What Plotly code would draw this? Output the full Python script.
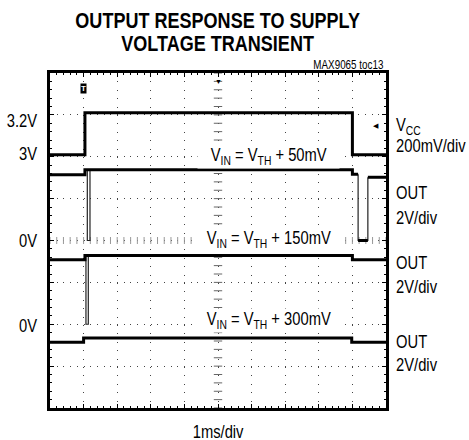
import numpy as np
import plotly.graph_objects as go

# ---------------- data ----------------
title_lines = ["OUTPUT RESPONSE TO SUPPLY", "VOLTAGE TRANSIENT"]
chart_id = "MAX9065 toc13"
x_label = "1ms/div"

left_labels = ["3.2V", "3V", "0V", "0V", "0V"]
left_label_div = [6.85, 6.07, 4.0, 1.96, -0.02]

right_labels = ["V<sub>CC</sub>", "200mV/div", "OUT", "2V/div", "OUT", "2V/div", "OUT", "2V/div"]
right_label_div = [6.72, 6.26, 5.13, 4.53, 3.46, 2.89, 1.58, 1.03]

vin_labels = ["V<sub>IN</sub> = V<sub>TH</sub> + 50mV",
              "V<sub>IN</sub> = V<sub>TH</sub> + 150mV",
              "V<sub>IN</sub> = V<sub>TH</sub> + 300mV"]
vin_label_div = [6.0, 4.02, 2.1]

# time in ms (1 ms/div), voltages in volts
t_vcc = [0, 1.04, 1.04, 9.0, 9.0, 10]
v_vcc = [3.0, 3.0, 3.2, 3.2, 3.0, 3.0]

t_out1 = [0, 1.04, 1.04, 9.0, 9.0, 9.17, None, 9.17, 9.46, None, 9.46, 10]
v_out1 = [3.14, 3.14, 3.38, 3.38, 3.16, 3.16, None, 0.0, 0.0, None, 3.02, 3.02]
t_out1_edges = [1.11, 1.11, 1.19, 1.19, None, 9.17, 9.17, 9.46, 9.46]
v_out1_edges = [3.38, 0.0, 0.0, 3.38, None, 3.16, 0.0, 0.0, 3.02]

t_out2 = [0, 1.04, 1.04, 9.0, 9.0, 10]
v_out2 = [3.08, 3.08, 3.28, 3.28, 3.08, 3.08]
t_out2_edges = [1.07, 1.07, 1.14, 1.14]
v_out2_edges = [3.28, 0.0, 0.0, 3.28]

t_out3 = [0, 1.0, 1.0, 8.98, 8.98, 10]
v_out3 = [3.14, 3.14, 3.34, 3.34, 3.14, 3.14]

# channel settings (scope screen: 8 vertical divisions)
vcc_ref_v, vcc_ref_div, vcc_scale = 3.0, 6.05, 0.2
out_scale = 2.0
out1_zero, out2_zero, out3_zero = 4.0, 2.0, 0.0

# ---------------- figure ----------------
FONT = "Liberation Sans, Arial, sans-serif"
NARROW = 0.82


def vcc_div(v):
    return [None if x is None else vcc_ref_div + (x - vcc_ref_v) / vcc_scale for x in v]


def out_div(v, zero):
    return [None if x is None else zero + x / out_scale for x in v]


fig = go.Figure()

# graticule center-cross tick marks
cross = np.arange(0, 10.001, 0.2)
crossy = np.arange(0, 8.001, 0.2)
fig.add_trace(go.Scatter(x=[5] * len(crossy), y=crossy, mode="markers",
                         marker=dict(symbol="line-ew", size=6, line=dict(width=1, color="#666")),
                         hoverinfo="skip", showlegend=False))
fig.add_trace(go.Scatter(x=cross, y=[4] * len(cross), mode="markers",
                         marker=dict(symbol="line-ns", size=5, line=dict(width=1, color="#999")),
                         hoverinfo="skip", showlegend=False))

thick = dict(color="black", width=3)
thin = dict(color="#222", width=1.2)

fig.add_trace(go.Scatter(x=t_vcc, y=vcc_div(v_vcc), mode="lines", line=thick, showlegend=False))
fig.add_trace(go.Scatter(x=t_out1_edges, y=out_div(v_out1_edges, out1_zero), mode="lines", line=thin, showlegend=False))
fig.add_trace(go.Scatter(x=t_out1, y=out_div(v_out1, out1_zero), mode="lines", line=thick, showlegend=False))
fig.add_trace(go.Scatter(x=t_out2_edges, y=out_div(v_out2_edges, out2_zero), mode="lines", line=thin, showlegend=False))
fig.add_trace(go.Scatter(x=t_out2, y=out_div(v_out2, out2_zero), mode="lines", line=thick, showlegend=False))
fig.add_trace(go.Scatter(x=t_out3, y=out_div(v_out3, out3_zero), mode="lines", line=thick, showlegend=False))

ann = []
origins = []


def add(origin, **kw):
    ann.append(kw)
    origins.append(origin)


# title
add("center", text="<b>%s</b>" % title_lines[0], xref="paper", yref="paper", x=0.5, y=1.1567,
    showarrow=False, font=dict(size=22, family=FONT, color="black"), yanchor="middle")
add("center", text="<b>%s</b>" % title_lines[1], xref="paper", yref="paper", x=0.5, y=1.0866,
    showarrow=False, font=dict(size=22, family=FONT, color="black"), yanchor="middle")
add("right", text=chart_id, xref="paper", yref="paper", x=1, y=1.0239, xanchor="right",
    showarrow=False, font=dict(size=12, family=FONT, color="black"), yanchor="middle")
add("center", text=x_label, xref="paper", yref="paper", x=0.5, y=-0.0716,
    showarrow=False, font=dict(size=18, family=FONT, color="black"), yanchor="middle")
for lab, yv in zip(left_labels, left_label_div):
    add("right", text=lab, xref="paper", yref="y", x=0, y=yv, xanchor="right", xshift=-11,
        showarrow=False, font=dict(size=18, family=FONT, color="black"), yanchor="middle")
for lab, yv in zip(right_labels, right_label_div):
    add("left", text=lab, xref="paper", yref="y", x=1, y=yv, xanchor="left", xshift=8,
        showarrow=False, font=dict(size=18, family=FONT, color="black"), yanchor="middle")
for lab, yv in zip(vin_labels, vin_label_div):
    add("center", text=lab, xref="x", yref="y", x=6.5, y=yv, xanchor="center",
        showarrow=False, bgcolor="white", borderpad=0,
        font=dict(size=18, family=FONT, color="black"), yanchor="middle")
# trigger markers
add("center", text="<b>T</b>", xref="x", yref="paper", x=1.0, y=0.97, showarrow=False,
    bgcolor="black", borderpad=0, font=dict(size=8, family=FONT, color="white"))
add("center", text="▼", xref="x", yref="paper", x=5.0, y=0.995, showarrow=False,
    font=dict(size=7, color="black"))
add("center", text="◀", xref="paper", yref="y", x=0.985, y=6.75, showarrow=False,
    font=dict(size=7, color="black"))

fig.update_layout(
    width=469, height=440,
    margin=dict(l=50, r=83, t=73, b=32),
    paper_bgcolor="white", plot_bgcolor="white",
    annotations=ann,
    hovermode=False,
    xaxis=dict(range=[0, 10], dtick=1, showgrid=True, gridcolor="#444", gridwidth=1,
               griddash="1px,7.4px", showticklabels=False, zeroline=False,
               showline=True, linewidth=2.5, linecolor="black", mirror="ticks",
               ticks="inside", ticklen=4, tickcolor="black",
               minor=dict(ticks="inside", dtick=0.2, ticklen=2, tickcolor="black", showgrid=False)),
    yaxis=dict(range=[0, 8], dtick=1, showgrid=True, gridcolor="#444", gridwidth=1,
               griddash="1px,5.7px", showticklabels=False, zeroline=False,
               showline=True, linewidth=2.5, linecolor="black", mirror="ticks",
               ticks="inside", ticklen=4, tickcolor="black",
               minor=dict(ticks="inside", dtick=0.2, ticklen=2, tickcolor="black", showgrid=False)),
)

# narrow (condensed) look for the text, anchored like each annotation
css = ["body{margin:0;padding:0;overflow:hidden;}"]
for i, o in enumerate(origins[:-3]):
    css.append('g.annotation[data-index="%d"] text.annotation-text{transform-box:fill-box;'
               'transform-origin:%s center;transform:scaleX(%.2f);}' % (i, o, NARROW))
post = ("var s=document.createElement('style');s.textContent=%r;document.head.appendChild(s);"
        % "".join(css))

fig.write_html("out.html", post_script=post, config={"displayModeBar": False})
